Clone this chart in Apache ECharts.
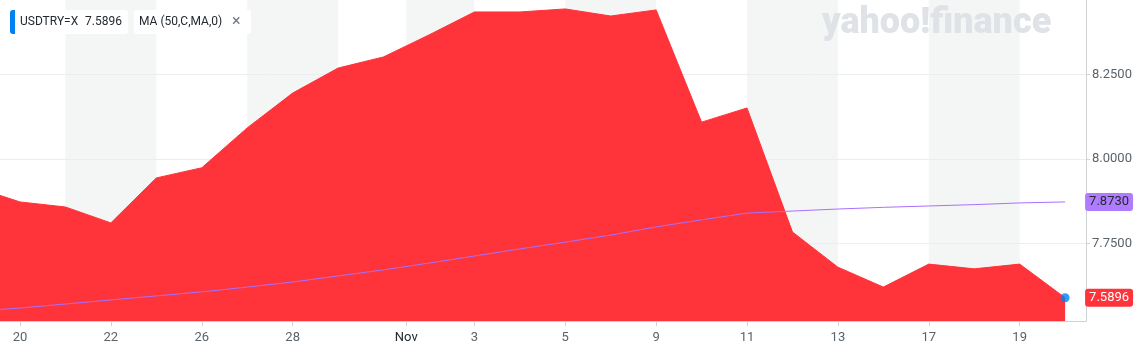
<!DOCTYPE html>
<html>
<head>
<meta charset="utf-8">
<script src="https://cdn.jsdelivr.net/npm/echarts@6/dist/echarts.min.js"></script>
<style>
  html, body { margin: 0; padding: 0; background: #ffffff; }
  #chart { width: 1141px; height: 351px; }
</style>
</head>
<body>
<div id="chart"></div>
<script>
// Trading days (USD/TRY), Oct 19 – Nov 20, 2020
const dates = ['Oct 19','Oct 20','Oct 21','Oct 22','Oct 23','Oct 26','Oct 27','Oct 28','Oct 29','Oct 30',
               'Nov 2','Nov 3','Nov 4','Nov 5','Nov 6','Nov 9','Nov 10','Nov 11','Nov 12','Nov 13',
               'Nov 16','Nov 17','Nov 18','Nov 19','Nov 20'];
const price = [7.917, 7.873, 7.858, 7.811, 7.944, 7.974, 8.092, 8.195, 8.269, 8.302,
               8.367, 8.435, 8.435, 8.444, 8.423, 8.441, 8.109, 8.151, 7.784, 7.680,
               7.621, 7.689, 7.675, 7.689, 7.5896];
const ma50  = [7.550, 7.559, 7.571, 7.583, 7.595, 7.607, 7.621, 7.636, 7.654, 7.672,
               7.692, 7.713, 7.734, 7.754, 7.775, 7.799, 7.820, 7.840, 7.846, 7.852,
               7.857, 7.861, 7.865, 7.870, 7.873];
// x tick positions (in trading-day index) and their labels
const tickIdx    = [1, 3, 5, 7, 9.5, 11, 13, 15, 17, 19, 21, 23];
const tickLabels = ['20','22','26','28','Nov','3','5','9','11','13','17','19'];
// shaded column ranges (trading-day index)
const bands = [[2,4],[6,8],[9.5,11],[13,15],[17,19],[21,23]];
// y ticks
const yTicks = [7.75, 8.0, 8.25];

const lastIdx = price.length - 1;
const pricePts = price.map((v, i) => [i, v]);
const maPts = ma50.map((v, i) => [i, v]);

const chart = echarts.init(document.getElementById('chart'), null, { renderer: 'canvas' });
const FONT = 'Roboto, "Noto Sans", sans-serif';

chart.setOption({
  animation: false,
  backgroundColor: '#ffffff',
  grid: { left: 0, right: 55, top: 0, bottom: 30 },
  xAxis: {
    type: 'value',
    min: 0.56, max: 24.46,
    z: 1,
    axisLine: { show: true, lineStyle: { color: '#cfd1d4', width: 1 } },
    axisTick: { show: true, length: 5, lineStyle: { color: '#cfd1d4' }, customValues: tickIdx },
    splitLine: { show: false },
    axisLabel: {
      customValues: tickIdx,
      margin: 10,
      fontFamily: FONT, fontSize: 13, color: '#5b636a',
      formatter: function (v) {
        const k = tickIdx.indexOf(v);
        if (k < 0) return '';
        const t = tickLabels[k];
        return isNaN(Number(t)) ? '{m|' + t + '}' : t;
      },
      rich: { m: { fontFamily: FONT, fontSize: 13, color: '#232a31' } }
    }
  },
  yAxis: {
    type: 'value',
    position: 'right',
    min: 7.5207, max: 8.4704,
    z: 1,
    axisLine: { show: true, lineStyle: { color: '#cfd1d4', width: 1 } },
    axisTick: { show: true, length: 4, lineStyle: { color: '#cfd1d4' }, customValues: yTicks },
    splitLine: { show: true, lineStyle: { color: '#ebedee', width: 1 } },
    axisLabel: {
      customValues: yTicks,
      margin: 6,
      fontFamily: FONT, fontSize: 13, color: '#5b636a',
      formatter: v => v.toFixed(4)
    }
  },
  graphic: [
    // watermark
    { type: 'text', z: 2, left: 822, top: 6,
      style: { text: 'yahoo!finance', font: '900 36px ' + FONT, fill: '#dfe2e6' } },
    // legend chips
    { type: 'rect', z: 100, shape: { x: 10, y: 10, width: 6, height: 24, r: [3, 0, 0, 3] }, style: { fill: '#0081f2' } },
    { type: 'rect', z: 100, shape: { x: 15, y: 10, width: 113, height: 24, r: [0, 3, 3, 0] }, style: { fill: '#ffffff' } },
    { type: 'text', z: 101, x: 20, y: 22,
      style: { text: 'USDTRY=X', font: '12px ' + FONT, fill: '#232a31', verticalAlign: 'middle' } },
    { type: 'text', z: 101, x: 85, y: 22,
      style: { text: price[lastIdx].toFixed(4), font: '12px ' + FONT, fill: '#232a31', verticalAlign: 'middle' } },
    { type: 'rect', z: 100, shape: { x: 134, y: 10, width: 117, height: 24, r: 3 }, style: { fill: '#ffffff' } },
    { type: 'text', z: 101, x: 139, y: 22,
      style: { text: 'MA (50,C,MA,0)', font: '12px ' + FONT, fill: '#232a31', verticalAlign: 'middle' } },
    { type: 'text', z: 101, x: 232, y: 22,
      style: { text: '\u00d7', font: '16px ' + FONT, fill: '#6e7780', verticalAlign: 'middle' } }
  ],
  series: [
    {
      name: 'bands', type: 'line', z: 0,
      data: [], symbol: 'none', silent: true,
      markArea: {
        z: 0,
        silent: true,
        itemStyle: { color: '#f4f5f5' },
        data: bands.map(b => [{ xAxis: b[0], yAxis: 7.5207 }, { xAxis: b[1], yAxis: 8.4704 }])
      }
    },
    {
      name: 'USDTRY=X', type: 'line', z: 3,
      data: pricePts, symbol: 'none', showSymbol: false,
      lineStyle: { width: 1, color: '#ff333a' },
      areaStyle: { color: '#ff333a', opacity: 1, origin: 'start' },
      endLabel: {
        show: true, distance: 20,
        formatter: p => p.value[1].toFixed(4),
        fontFamily: FONT, fontSize: 13, color: '#ffffff',
        backgroundColor: '#ff333a', borderRadius: 3, padding: [2, 4, 2, 4], lineHeight: 14
      }
    },
    {
      name: 'MA (50,C,MA,0)', type: 'line', z: 4,
      data: maPts, symbol: 'none', showSymbol: false,
      lineStyle: { width: 1, color: '#a970ff' },
      endLabel: {
        show: true, distance: 20,
        formatter: p => p.value[1].toFixed(4),
        fontFamily: FONT, fontSize: 13, color: '#232a31',
        backgroundColor: '#b07cff', borderRadius: 3, padding: [2, 4, 2, 4], lineHeight: 14
      }
    },
    {
      name: 'last', type: 'scatter', z: 5,
      data: [[lastIdx, price[lastIdx]]],
      symbolSize: 9, itemStyle: { color: '#0081f2' }, silent: true
    }
  ]
});
</script>
</body>
</html>
